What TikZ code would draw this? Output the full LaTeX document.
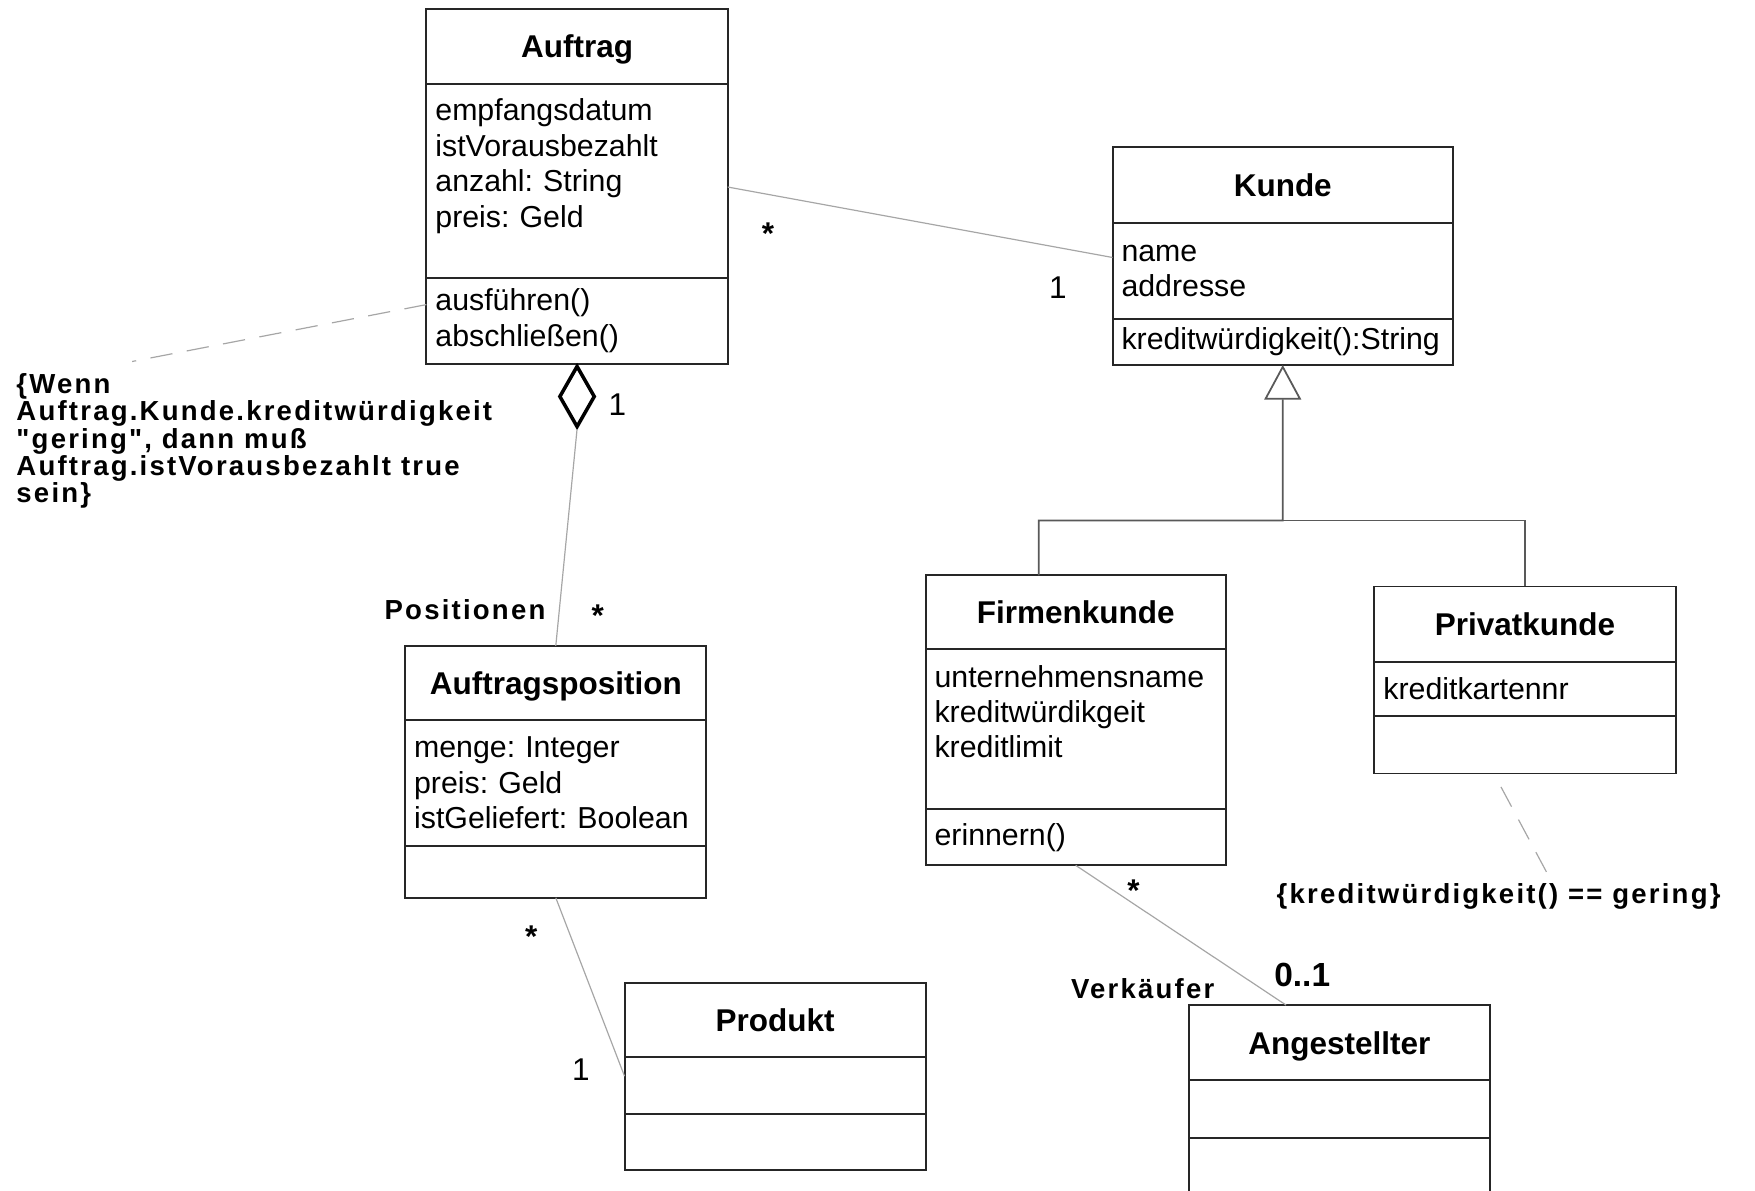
\documentclass[tikz,border=0pt]{standalone}
\usepackage{fontspec}
\setmainfont{Liberation Sans}
\newfontfamily\notefont{Liberation Sans}[Ligatures=TeXOff,LetterSpace=8]
\usetikzlibrary{positioning,arrows.meta,shapes.geometric}
\hyphenpenalty=10000
\frenchspacing

\newcommand\attrfont{\fontsize{7.7}{9}\selectfont}
\newcommand\titlefont{\bfseries\fontsize{8}{9}\selectfont}
\newcommand\notetext{\notefont\bfseries\fontsize{7}{6.95}\selectfont}

\begin{document}
\begin{tikzpicture}[
  x=0.01cm, y=0.01cm,
  cls/.style={draw=black!85, line width=0.5pt, inner xsep=0.08cm, inner ysep=0pt,
    outer sep=0pt, text width=#1, align=left, font=\attrfont},
  clshead/.style={cls=#1, align=center, font=\titlefont, text depth=0pt, anchor=north west},
  assoc/.style={draw=black!35, line width=0.3pt},
  constraint/.style={draw=black!35, line width=0.3pt, dash pattern=on 0.2cm off 0.13cm},
  mult/.style={inner sep=0pt, font=\fontsize{8}{9}\selectfont},
  multstar/.style={inner sep=0pt, font=\bfseries\fontsize{8}{9}\selectfont},
  role/.style={inner sep=0pt, font=\notetext},
  gen/.style={draw=black!65, line width=0.45pt},
  agg/.style={diamond, draw=black, line width=0.9pt, fill=white,
    minimum width=0.32cm, minimum height=0.55cm, inner sep=0pt}
]
  \useasboundingbox (0,0) rectangle (1568,-1064);
  \clip (0,0) rectangle (1568,-1064);
  \fill[white] (0,0) rectangle (1568,-1064);

  \node[clshead=2.53cm, minimum height=0.67cm] (auftrag) at (381,-8) {Auftrag};
  \node[cls=2.53cm, minimum height=1.73cm, below=0pt of auftrag] (auftrag-a)
    {empfangsdatum\\istVorausbezahlt\\anzahl: String\\preis: Geld\\\mbox{}};
  \node[cls=2.53cm, minimum height=0.77cm, below=0pt of auftrag-a] (auftrag-o)
    {ausführen()\\abschließen()};

  \node[clshead=2.88cm, minimum height=0.68cm] (kunde) at (994,-131) {Kunde};
  \node[cls=2.88cm, minimum height=0.86cm, below=0pt of kunde] (kunde-a) {name\\addresse};
  \node[cls=2.88cm, minimum height=0.41cm, below=0pt of kunde-a] (kunde-o) {kreditwürdigkeit():String};

  \node[clshead=2.52cm, minimum height=0.66cm] (firma) at (827,-514) {Firmenkunde};
  \node[cls=2.52cm, minimum height=1.43cm, below=0pt of firma] (firma-a)
    {unternehmensname\\kreditwürdikgeit\\kreditlimit\\\mbox{}};
  \node[cls=2.52cm, minimum height=0.50cm, below=0pt of firma-a] (firma-o) {erinnern()};

  \node[clshead=2.53cm, minimum height=0.67cm] (privat) at (1228,-524) {Privatkunde};
  \node[cls=2.53cm, minimum height=0.49cm, below=0pt of privat] (privat-a) {kreditkartennr};
  \node[cls=2.53cm, minimum height=0.51cm, below=0pt of privat-a] (privat-o) {};

  \node[clshead=2.53cm, minimum height=0.66cm] (apos) at (362,-577) {Auftragsposition};
  \node[cls=2.53cm, minimum height=1.13cm, below=0pt of apos] (apos-a)
    {menge: Integer\\preis: Geld\\istGeliefert: Boolean};
  \node[cls=2.53cm, minimum height=0.46cm, below=0pt of apos-a] (apos-o) {};

  \node[clshead=2.53cm, minimum height=0.66cm] (produkt) at (558,-878) {Produkt};
  \node[cls=2.53cm, minimum height=0.51cm, below=0pt of produkt] (produkt-a) {};
  \node[cls=2.53cm, minimum height=0.50cm, below=0pt of produkt-a] (produkt-o) {};

  \node[clshead=2.53cm, minimum height=0.67cm] (angest) at (1062,-898) {Angestellter};
  \node[cls=2.53cm, minimum height=0.52cm, below=0pt of angest] (angest-a) {};
  \node[cls=2.53cm, minimum height=0.60cm, below=0pt of angest-a] (angest-o) {};

  \draw[assoc] ([yshift=-0.055cm]auftrag-a.east) -- ([yshift=0.12cm]kunde-a.west)
    node[multstar, pos=0.105, yshift=-0.35cm] (m1) {*}
    node[mult, pos=0.858, yshift=-0.36cm] (m2) {1};

  \node[agg, below=0pt of auftrag-o] (aggr) {};
  \node[mult, right=0.1cm of aggr, yshift=-0.07cm] (m3) {1};
  \draw[assoc] (aggr.south) -- (apos.north)
    node[role, pos=0.832, anchor=east, xshift=-0.12cm] (r1) {Positionen}
    node[multstar, pos=0.832, xshift=0.343cm, yshift=-0.06cm] (m4) {*};

  \draw[assoc] (apos-o.south) -- ([yshift=0.08cm]produkt-a.west)
    node[multstar, pos=0.18, xshift=-0.33cm, yshift=-0.06cm] (m5) {*}
    node[mult, pos=0.966, xshift=-0.37cm] (m6) {1};

  \draw[assoc] (firma-o.south) -- ([xshift=-0.475cm]angest.north)
    node[multstar, pos=0.136, xshift=0.26cm, yshift=-0.06cm] (m7) {*}
    node[role, pos=0.88, anchor=east, xshift=-0.41cm] (r2) {Verkäufer}
    node[mult, pos=0.784, xshift=0.55cm, font=\bfseries\fontsize{8.5}{9}\selectfont] (m8) {0..1};

  \coordinate (bus) at (1146,-465);
  \draw[gen, -{Triangle[open, width=0.33cm, length=0.31cm, fill=white]}]
    ([xshift=-0.33cm]firma.north) |- (bus) -- (kunde-o.south);
  \draw[gen] (privat.north) |- (bus);

  \node[role, anchor=north west, align=left] (note) at (14,-333)
    {\{Wenn\\Auftrag.Kunde.kreditwürdigkeit\\"gering", dann muß\\Auftrag.istVorausbezahlt true\\sein\}};
  \draw[constraint] ([yshift=0.145cm]auftrag-o.west) -- ([xshift=1.04cm,yshift=0.1cm]note.north west);

  \node[role, anchor=west] (cond) at (1140,-801) {\{kreditwürdigkeit() == gering\}};
  \draw[constraint] ([xshift=-0.215cm,yshift=-0.12cm]privat-o.south) -- ([xshift=2.43cm,yshift=0.07cm]cond.north west);
\end{tikzpicture}
\end{document}
